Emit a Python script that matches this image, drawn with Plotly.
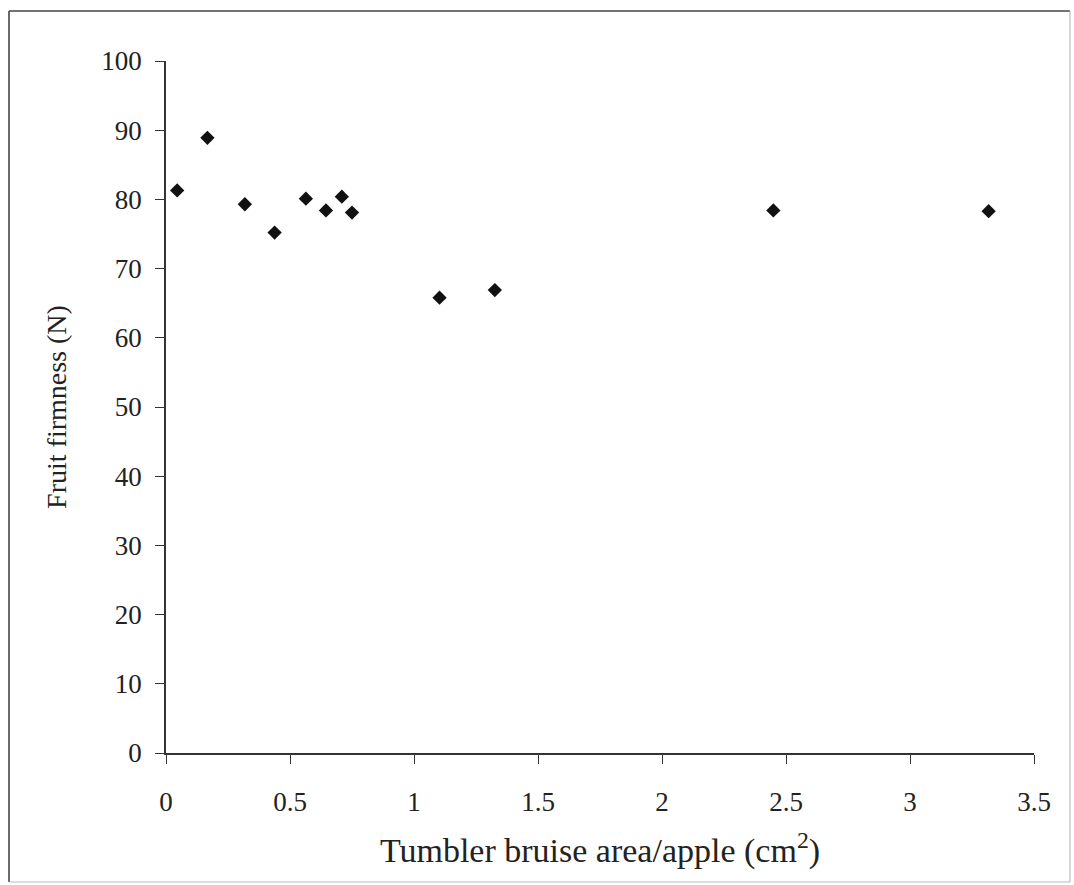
import plotly.graph_objects as go

# Tumbler bruise area per apple (cm^2) and fruit firmness (N)
bruise_area = [0.045, 0.167, 0.318, 0.438, 0.564, 0.645, 0.709, 0.750, 1.103, 1.326, 2.449, 3.317]
firmness = [81.3, 88.9, 79.3, 75.2, 80.1, 78.4, 80.4, 78.1, 65.8, 66.9, 78.4, 78.3]

x_ticks = [0, 0.5, 1, 1.5, 2, 2.5, 3, 3.5]
x_tick_text = ["0", "0.5", "1", "1.5", "2", "2.5", "3", "3.5"]
y_ticks = list(range(0, 101, 10))

W, H = 1074, 885
ML, MR, MT, MB = 166, 40, 61, 132

fig = go.Figure(
    go.Scatter(
        x=bruise_area,
        y=firmness,
        mode="markers",
        marker=dict(symbol="diamond", size=11, color="#111111"),
        showlegend=False,
    )
)

serif = "Liberation Serif, Times New Roman, serif"

fig.update_xaxes(
    range=[0, 3.5],
    tickvals=x_ticks,
    ticktext=x_tick_text,
    ticks="outside",
    ticklen=9,
    tickwidth=1.3,
    tickcolor="#333333",
    showline=True,
    linecolor="#333333",
    linewidth=1.5,
    showgrid=False,
    zeroline=False,
    ticklabelstandoff=15,
    tickfont=dict(family=serif, size=27, color="#222222"),
    title=dict(
        text="Tumbler bruise area/apple (cm<sup>2</sup>)",
        font=dict(family=serif, size=34, color="#222222"),
        standoff=22,
    ),
)
fig.update_yaxes(
    range=[0, 100],
    tickvals=y_ticks,
    ticks="outside",
    ticklen=9,
    tickwidth=1.3,
    tickcolor="#333333",
    showline=True,
    linecolor="#333333",
    linewidth=1.5,
    showgrid=False,
    zeroline=False,
    ticklabelstandoff=8,
    tickfont=dict(family=serif, size=27, color="#222222"),
    title=dict(
        text="Fruit firmness (N)",
        font=dict(family=serif, size=28, color="#222222"),
        standoff=27,
    ),
)

# Frame around the whole chart, expressed in paper units of the plot area
pw, ph = W - ML - MR, H - MT - MB
def px_x(p):
    return (p - ML) / pw
def px_y(p):
    return (H - MB - p) / ph

x0, x1 = px_x(9), px_x(1070)
y0, y1 = px_y(882), px_y(11)
dark = dict(color="#444444", width=1.6)
light = dict(color="#bbbbbb", width=1.2)
fig.add_shape(type="line", xref="paper", yref="paper", x0=x0, x1=x1, y0=y1, y1=y1, line=dark)
fig.add_shape(type="line", xref="paper", yref="paper", x0=x0, x1=x0, y0=y0, y1=y1, line=dark)
fig.add_shape(type="line", xref="paper", yref="paper", x0=x1, x1=x1, y0=y0, y1=y1, line=light)
fig.add_shape(type="line", xref="paper", yref="paper", x0=x0, x1=x1, y0=y0, y1=y0, line=light)

fig.update_layout(
    width=W,
    height=H,
    margin=dict(l=ML, r=MR, t=MT, b=MB),
    paper_bgcolor="white",
    plot_bgcolor="white",
)

fig.write_html("out.html")
